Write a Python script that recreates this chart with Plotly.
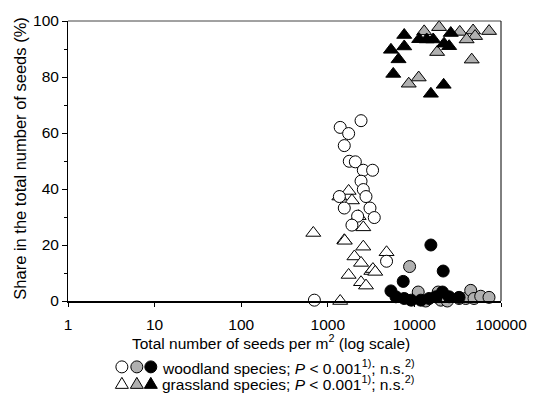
import plotly.graph_objects as go

# ---------------- data ----------------
# woodland species (circles)
wood_white_x = [2420, 1390, 1740, 1550, 1770, 2080, 2570, 3290, 2420, 2570, 2760, 1360,
                1550, 3070, 3440, 2210, 1900, 4770, 700]
wood_white_y = [64.4, 62.0, 59.8, 55.5, 49.9, 49.7, 46.7, 46.7, 42.8, 39.8, 37.3, 37.3,
                33.2, 33.2, 29.8, 30.3, 27.1, 14.2, 0.3]
wood_grey_x = [8800, 11070, 18800, 20200, 13500, 32800, 39200, 44700, 48800, 58300, 72700, 24000]
wood_grey_y = [12.3, 3.2, 3.2, 0.3, 0.0, 0.9, 0.9, 3.8, 0.9, 1.7, 1.3, 0.0]
wood_black_x = [15500, 21500, 7430, 5360, 6120, 7630, 9190, 11880, 14800, 17700, 21100, 25200, 32800]
wood_black_y = [20.0, 10.7, 7.0, 3.6, 1.5, 0.9, 0.3, 0.3, 0.9, 1.5, 3.2, 1.5, 1.3]

# grassland species (triangles)
grass_white_x = [1740, 1360, 1900, 2270, 2570, 680, 1550, 1570, 2570, 2030, 2420, 4770,
                 3180, 3320, 3530, 1740, 2420, 2760, 1390]
grass_white_y = [39.3, 37.3, 35.9, 30.3, 26.3, 24.3, 21.7, 21.5, 19.4, 15.9, 13.6, 17.4,
                 10.7, 11.4, 10.4, 9.3, 6.7, 5.5, 0.0]
grass_grey_x = [12970, 19300, 33400, 47600, 50200, 72800, 40100, 18300, 45900, 11210, 8600]
grass_grey_y = [96.3, 97.8, 96.1, 96.6, 94.6, 96.4, 93.4, 88.9, 86.2, 79.8, 77.6]
grass_black_x = [7630, 11350, 13860, 16480, 26300, 22000, 25200, 7630, 5360, 6560, 5700, 21770, 15500]
grass_black_y = [95.0, 93.5, 93.4, 93.4, 95.7, 91.9, 91.0, 90.9, 89.7, 86.3, 81.1, 77.2, 74.0]

x_tickvals = [1, 10, 100, 1000, 10000, 100000]
x_ticktext = ["1", "10", "100", "1000", "10000", "100000"]
y_tickvals = [0, 20, 40, 60, 80, 100]

GREY = "#b0b0b0"
FONT = "Liberation Sans, Arial, sans-serif"
FS = 15.5

fig = go.Figure()

def add(xs, ys, symbol, fill, size):
    fig.add_trace(go.Scatter(
        x=xs, y=ys, mode="markers", cliponaxis=False, showlegend=False,
        marker=dict(symbol=symbol, size=size, color=fill,
                    line=dict(color="black", width=1)),
    ))

add(grass_white_x, grass_white_y, "triangle-up", "white", 13)
add(wood_white_x, wood_white_y, "circle", "white", 12)
add(wood_grey_x, wood_grey_y, "circle", GREY, 12)
add(wood_black_x, wood_black_y, "circle", "black", 12)
add(grass_grey_x, grass_grey_y, "triangle-up", GREY, 13)
add(grass_black_x, grass_black_y, "triangle-up", "black", 13)

# plot area in pixels: x 68..502, y 12..301
L, R, T, B = 68, 502, 12, 301
W, H = R - L, B - T
def px(x):
    return (x - L) / W
def py(y):
    return (B - y) / H

shapes = [
    dict(type="line", xref="paper", yref="paper", x0=0, x1=1, y0=1, y1=1,
         line=dict(color="#444", width=1)),
    dict(type="line", xref="paper", yref="paper", x0=1, x1=1, y0=0, y1=1,
         line=dict(color="black", width=1)),
]

# legend symbols
def circ(xp, yp, fill):
    return dict(type="circle", xref="paper", yref="paper", xsizemode="pixel", ysizemode="pixel",
                xanchor=px(xp), yanchor=py(yp), x0=-6, x1=6, y0=-6, y1=6,
                fillcolor=fill, line=dict(color="black", width=1))

def tri(xp, yp, fill):
    return dict(type="path", xref="paper", yref="paper", xsizemode="pixel", ysizemode="pixel",
                xanchor=px(xp), yanchor=py(yp), path="M -6.5 -5 L 6.5 -5 L 0 6 Z",
                fillcolor=fill, line=dict(color="black", width=1))

leg_y1, leg_y2 = 369, 386
for xp, fill in [(122, "white"), (137, GREY), (151, "black")]:
    shapes.append(circ(xp, leg_y1, fill))
    shapes.append(tri(xp, leg_y2, fill))

annotations = [
    dict(text="Total number of seeds per m<sup>2</sup> (log scale)", xref="paper", yref="paper",
         x=px(271), y=py(343), xanchor="center", yanchor="middle", showarrow=False,
         font=dict(size=FS, color="black", family=FONT)),
    dict(text="Share in the total number of seeds (%)", xref="paper", yref="paper",
         x=px(19), y=py(154), xanchor="center", yanchor="middle", showarrow=False, textangle=-90,
         font=dict(size=FS + 1, color="black", family=FONT)),
    dict(text="woodland species; <i>P</i> &lt; 0.001<sup>1)</sup>; n.s.<sup>2)</sup>",
         xref="paper", yref="paper", x=px(160), y=py(leg_y1), xanchor="left", yanchor="middle",
         showarrow=False, font=dict(size=FS, color="black", family=FONT)),
    dict(text="grassland species; <i>P</i> &lt; 0.001<sup>1)</sup>; n.s.<sup>2)</sup>",
         xref="paper", yref="paper", x=px(160), y=py(leg_y2), xanchor="left", yanchor="middle",
         showarrow=False, font=dict(size=FS, color="black", family=FONT)),
]

fig.update_layout(
    width=539, height=402,
    margin=dict(l=L, r=539 - R, t=T, b=402 - B, pad=0),
    paper_bgcolor="white", plot_bgcolor="white",
    font=dict(family=FONT, size=FS, color="black"),
    shapes=shapes, annotations=annotations,
    xaxis=dict(type="log", range=[0, 5], tickvals=x_tickvals, ticktext=x_ticktext,
               showgrid=False, zeroline=False, showline=True, linecolor="black", linewidth=2,
               ticks="outside", ticklen=4, tickcolor="black", tickwidth=1,
               ticklabelstandoff=4,
               tickfont=dict(size=FS, family=FONT)),
    yaxis=dict(range=[0, 100], tickvals=y_tickvals, showgrid=False, zeroline=False,
               showline=True, linecolor="black", linewidth=1,
               ticks="outside", ticklen=5, tickcolor="black", tickwidth=1,
               minor=dict(dtick=10, ticks="outside", ticklen=3, tickcolor="black"),
               tickfont=dict(size=FS, family=FONT)),
)

fig.write_html("out.html")
